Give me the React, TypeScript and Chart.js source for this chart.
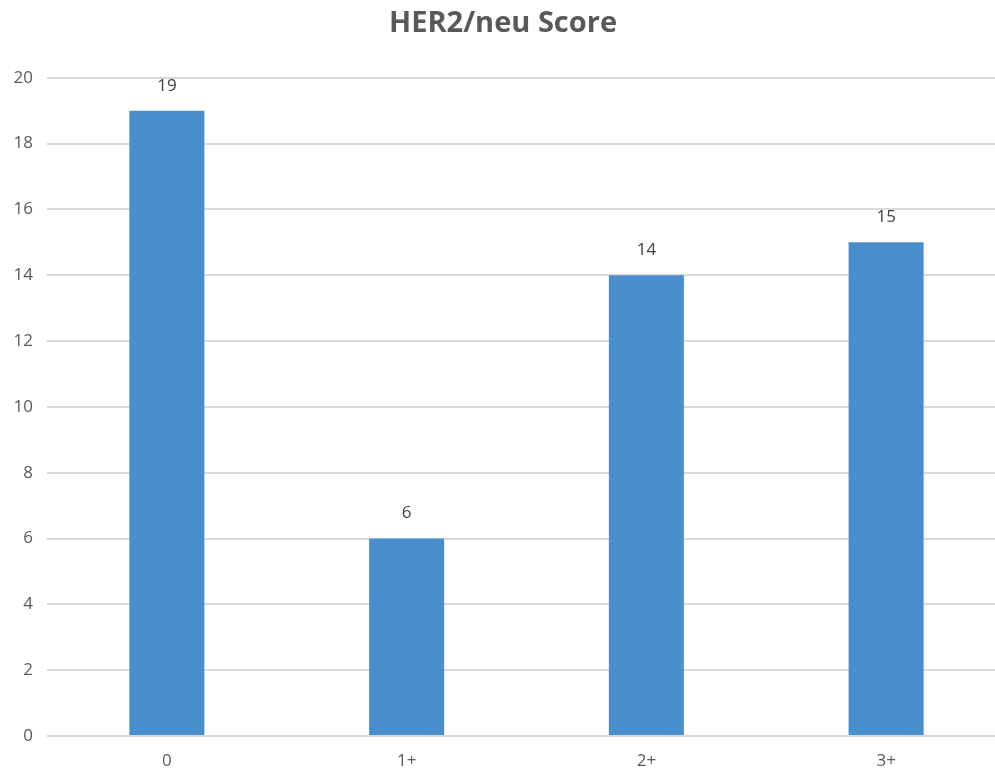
import React, { useEffect, useRef } from "react";
import { Chart, registerables } from "chart.js";

Chart.register(...registerables);

const categories = ["0", "1+", "2+", "3+"];
const counts = [19, 6, 14, 15];
const titleText = "HER2/neu Score";
const yMin = 0;
const yMax = 20;
const yStep = 2;

const valueLabels = {
  id: "valueLabels",
  afterDatasetsDraw(chart: any) {
    const ctx = chart.ctx;
    const meta = chart.getDatasetMeta(0);
    ctx.save();
    ctx.font = "17px 'Open Sans', sans-serif";
    ctx.fillStyle = "#404040";
    ctx.textAlign = "center";
    ctx.textBaseline = "middle";
    meta.data.forEach((bar: any, i: number) => {
      ctx.fillText(String(chart.data.datasets[0].data[i]), bar.x, bar.y - 25);
    });
    ctx.restore();
  },
};

export default function App() {
  const ref = useRef<HTMLCanvasElement>(null);
  useEffect(() => {
    document.body.style.margin = "0";
    const chart = new Chart(ref.current!, {
      type: "bar",
      data: {
        labels: categories,
        datasets: [
          {
            data: counts,
            backgroundColor: "#4A8FCC",
            borderWidth: 0,
            categoryPercentage: 1,
            barPercentage: 0.313,
          },
        ],
      },
      options: {
        responsive: false,
        animation: false,
        devicePixelRatio: 1,
        layout: { padding: { left: 0, right: 4, top: 0, bottom: 0 } },
        plugins: {
          legend: { display: false },
          tooltip: { enabled: false },
          title: {
            display: true,
            text: titleText,
            color: "#595959",
            font: { family: "'Open Sans', sans-serif", size: 29, weight: "bold" },
            padding: { top: 6, bottom: 37 },
          },
        },
        scales: {
          x: {
            grid: { display: false, drawTicks: false },
            border: { display: false },
            ticks: {
              color: "#595959",
              font: { family: "'Open Sans', sans-serif", size: 17 },
              padding: 15,
            },
            afterFit(scale: any) {
              scale.height = 34;
            },
          },
          y: {
            min: yMin,
            max: yMax,
            ticks: {
              stepSize: yStep,
              color: "#595959",
              font: { family: "'Open Sans', sans-serif", size: 17 },
              padding: 14,
            },
            grid: { color: "#d9d9d9", lineWidth: 2, drawTicks: false },
            border: { display: false },
            afterFit(scale: any) {
              scale.width = 47;
            },
          },
        },
      },
      plugins: [valueLabels],
    });
    return () => chart.destroy();
  }, []);
  return (
    <div
      style={{
        position: "fixed",
        left: 0,
        top: 0,
        width: 995,
        height: 770,
        overflow: "hidden",
        background: "#fff",
      }}
    >
      <canvas ref={ref} width={1010} height={770} style={{ width: 1010, height: 770, display: "block" }} />
    </div>
  );
}
